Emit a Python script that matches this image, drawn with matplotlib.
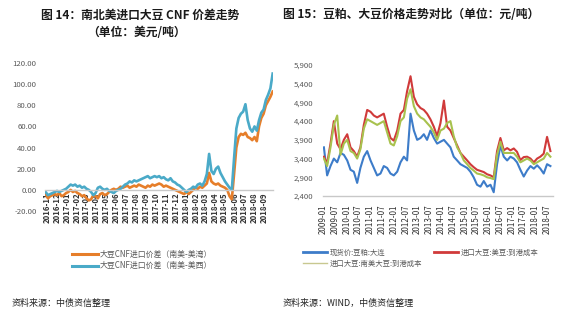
import matplotlib
matplotlib.use("Agg")
import matplotlib.pyplot as plt
import matplotlib.dates as mdates
import pandas as pd
from matplotlib.lines import Line2D

plt.rcParams['font.family'] = ['Noto Sans CJK SC', 'DejaVu Sans']

# ---------------- Left chart data (weekly, USD/t) ----------------
left_start = '2016-10-26'
gulf_spread = [-4, -8, -6, -5, -4, -5, -3, -6, -5, -3, -2, 0, -2, -1, -3, -4,
               -6, -5, -8, -10, -9, -5, -6, -8, -4, -3, -5, -4, -2, 0, 1, 0,
               1, 3, 2, 3, 4, 2, 3, 4, 3, 5, 4, 3, 2, 4, 3, 5,
               4, 5, 6, 5, 3, 4, 3, 2, 1, 0, -1, -2, -3, -4, -2, -4,
               -2, 0, 2, 1, 3, 2, 4, 6, 16, 8, 6, 5, 6, 4, 3, 2,
               0, -6, -9, 15, 40, 50, 53, 52, 54, 50, 49, 47, 50, 46, 60, 68,
               72, 80, 84, 88, 93]
west_spread = [-2, -5, -4, -3, -2, -1, -2, -1, 0, 1, 3, 5, 4, 5, 3, 4,
               2, 3, 1, 0, -2, -5, -3, 2, 3, 1, 0, 1, -1, -2, -3, -1,
               0, 1, 3, 5, 6, 8, 7, 9, 8, 9, 10, 11, 12, 13, 11, 12,
               13, 12, 13, 11, 12, 10, 9, 11, 8, 7, 5, 4, 2, 0, -2, 0,
               1, 3, 2, 5, 6, 4, 8, 15, 34, 18, 15, 20, 22, 16, 12, 8,
               5, 2, 0, 30, 58, 68, 72, 74, 81, 66, 58, 55, 60, 56, 66, 73,
               76, 85, 90, 96, 110]
left_labels = ['大豆CNF进口价差（南美-美湾）', '大豆CNF进口价差（南美-美西）']
left_yticks = [-20, 0, 20, 40, 60, 80, 100, 120]

# ---------------- Right chart data (CNY/t) ----------------
right_dates = ['2009-01-11', '2009-03-02', '2009-04-23', '2009-06-14', '2009-08-05', '2009-09-25',
               '2009-11-16', '2010-01-07', '2010-02-27', '2010-04-19', '2010-06-10', '2010-07-30',
               '2010-09-21', '2010-11-12', '2011-01-03', '2011-02-23', '2011-04-15', '2011-06-06',
               '2011-07-27', '2011-09-17', '2011-11-08', '2011-12-29', '2012-02-20', '2012-04-11',
               '2012-06-02', '2012-07-22', '2012-09-13', '2012-11-04', '2012-12-25', '2013-02-15',
               '2013-04-07', '2013-05-27', '2013-07-18', '2013-09-09', '2013-10-30', '2013-12-21',
               '2014-02-12', '2014-04-03', '2014-05-24', '2014-07-14', '2014-09-05', '2014-10-26',
               '2014-12-17', '2015-02-07', '2015-03-29', '2015-05-19', '2015-07-10', '2015-09-01',
               '2015-10-22', '2015-12-13', '2016-02-03', '2016-03-24', '2016-05-15', '2016-07-06',
               '2016-08-27', '2016-10-18', '2016-12-08', '2017-01-29', '2017-03-20', '2017-05-11',
               '2017-07-02', '2017-08-23', '2017-10-14', '2017-12-05', '2018-01-25', '2018-03-16',
               '2018-05-07', '2018-06-28', '2018-08-19']
meal_dalian = [3700, 2950, 3200, 3400, 3300, 3550, 3500, 3350, 3100, 3050, 2750, 3150,
               3450, 3600, 3350, 3150, 2950, 3000, 3200, 3150, 3000, 2950, 3050, 3300,
               3450, 3350, 4600, 4150, 3900, 3950, 4050, 3900, 4150, 3950, 3800, 3850,
               3900, 3800, 3700, 3450, 3350, 3250, 3200, 3150, 3050, 2900, 2700, 2650,
               2800, 2650, 2700, 2500, 3250, 3750, 3450, 3350, 3450, 3400, 3300, 3100,
               2920, 3080, 3200, 3130, 3220, 3130, 3000, 3250, 3200]
us_bean_cost = [3450, 3270, 3800, 4400, 3800, 3650, 3900, 4050, 3700, 3600, 3450, 3700,
                4300, 4700, 4650, 4550, 4500, 4550, 4600, 4250, 3950, 3880, 4150, 4600,
                4700, 5200, 5600, 5050, 4850, 4750, 4700, 4600, 4450, 4250, 4000, 4350,
                4950, 4250, 4150, 3950, 3750, 3550, 3450, 3350, 3250, 3170, 3100, 3070,
                3040, 2980, 2950, 2900, 3600, 3950, 3620, 3680, 3620, 3670, 3580, 3360,
                3440, 3450, 3400, 3300, 3400, 3450, 3530, 3980, 3600]
sa_bean_cost = [3400, 3200, 3700, 4300, 4550, 3500, 3800, 3900, 3600, 3550, 3400, 3650,
                4200, 4450, 4400, 4350, 4300, 4350, 4400, 4100, 3800, 3750, 4000, 4400,
                4500, 5000, 5250, 4800, 4600, 4500, 4450, 4350, 4250, 4100, 3900, 4150,
                4200, 4350, 4400, 4000, 3700, 3550, 3350, 3250, 3150, 3080, 3000, 2980,
                2950, 2900, 2880, 2850, 3500, 3850, 3550, 3550, 3550, 3550, 3450, 3300,
                3350, 3400, 3350, 3250, 3300, 3350, 3400, 3550, 3450]
right_labels = ['现货价:豆粕:大连', '进口大豆:美豆:到港成本', '进口大豆:南美大豆:到港成本']
right_yticks = [2400, 2900, 3400, 3900, 4400, 4900, 5400, 5900]

W, H = 565, 326
fig = plt.figure(figsize=(W / 100, H / 100), dpi=100)
fig.patch.set_facecolor('white')

def fx(px):
    return px / W

def fy(py):
    return 1 - py / H

TICK_C = '#595959'
AX_C = '#c8c8c8'

# ---------------- Left chart ----------------
axL = fig.add_axes([fx(45), fy(211), fx(273) - fx(45), fy(63) - fy(211)])
ldates = pd.date_range(left_start, periods=len(gulf_spread), freq='7D')
c_or = '#e67e2a'
c_bl = '#4aaac8'
axL.plot(ldates, gulf_spread, color=c_or, lw=1.9, solid_joinstyle='round')
axL.plot(ldates, west_spread, color=c_bl, lw=1.9, solid_joinstyle='round')
axL.set_ylim(-20, 120)
axL.set_xlim(pd.Timestamp('2016-10-24'), pd.Timestamp('2018-09-27'))
axL.set_yticks(left_yticks)
axL.set_yticklabels([f'{v:.2f}' for v in left_yticks])
axL.xaxis.set_major_locator(mdates.MonthLocator())
axL.xaxis.set_major_formatter(mdates.DateFormatter('%Y-%m'))
for s in ['top', 'right', 'left']:
    axL.spines[s].set_visible(False)
axL.spines['bottom'].set_position(('data', 0))
axL.spines['bottom'].set_color(AX_C)
axL.spines['bottom'].set_linewidth(1.0)
axL.tick_params(axis='y', length=0, pad=6, labelsize=5.6, labelcolor=TICK_C)
axL.tick_params(axis='x', length=0, pad=2, labelsize=5.6, labelcolor='#333333', rotation=90)
for t in axL.get_xticklabels():
    t.set_fontweight('bold')
axL.set_facecolor('none')

fig.text(fx(140), fy(15), '图 14：南北美进口大豆 CNF 价差走势', ha='center', va='center',
         fontsize=8.5, fontweight='bold', color='#1a1a1a')
fig.text(fx(137), fy(32), '（单位：美元/吨）', ha='center', va='center',
         fontsize=8.5, fontweight='bold', color='#1a1a1a')

hL = [Line2D([], [], color=c_or, lw=2.2), Line2D([], [], color=c_bl, lw=2.2)]
fig.legend(hL, left_labels, loc='upper left', bbox_to_anchor=(fx(72), fy(250)),
           frameon=False, fontsize=5.7, handlelength=3.3, handletextpad=0.25,
           labelspacing=0.3, borderpad=0, borderaxespad=0, labelcolor=TICK_C)
fig.text(fx(12), fy(303), '资料来源：中债资信整理', ha='left', va='center',
         fontsize=6.5, color='#262626')

# ---------------- Right chart ----------------
axR = fig.add_axes([fx(323), fy(196), fx(553) - fx(323), fy(65) - fy(196)])
rd = pd.to_datetime(right_dates)
c_b = '#3d7cc9'
c_r = '#d03a3a'
c_g = '#a8c24e'
axR.plot(rd, meal_dalian, color=c_b, lw=1.5)
axR.plot(rd, us_bean_cost, color=c_r, lw=1.5)
axR.plot(rd, sa_bean_cost, color=c_g, lw=1.5)
axR.set_ylim(2400, 5900)
axR.set_xlim(pd.Timestamp('2008-12-28'), pd.Timestamp('2018-09-28'))
axR.set_yticks(right_yticks)
axR.set_yticklabels([f'{v:,}' for v in right_yticks])
xt = pd.date_range('2009-01-01', '2018-07-01', freq='6MS')
axR.set_xticks(xt)
axR.set_xticklabels([d.strftime('%Y-%m') for d in xt])
for s in ['top', 'right', 'left']:
    axR.spines[s].set_visible(False)
axR.spines['bottom'].set_color(AX_C)
axR.spines['bottom'].set_linewidth(1.0)
axR.tick_params(axis='y', length=0, pad=7, labelsize=5.6, labelcolor=TICK_C)
axR.tick_params(axis='x', length=0, pad=6, labelsize=5.8, labelcolor='#333333', rotation=90)
axR.set_facecolor('none')

fig.text(fx(283), fy(15), '图 15：豆粕、大豆价格走势对比（单位：元/吨）', ha='left', va='center',
         fontsize=8.5, fontweight='bold', color='#1a1a1a')

hR = [Line2D([], [], color=c_b, lw=2.0), Line2D([], [], color=c_r, lw=2.0),
      Line2D([], [], color='#c8c890', lw=1.0)]
fig.legend([hR[0], hR[2], hR[1]], [right_labels[0], right_labels[2], right_labels[1]],
           ncol=2, loc='upper left', bbox_to_anchor=(fx(303), fy(249)),
           frameon=False, fontsize=5.3, handlelength=3.3, handletextpad=0.3,
           labelspacing=0.35, columnspacing=1.6, borderpad=0, borderaxespad=0,
           labelcolor=TICK_C)
fig.text(fx(283), fy(303), '资料来源：WIND，中债资信整理', ha='left', va='center',
         fontsize=6.5, color='#262626')

fig.savefig('out.png', dpi=100, facecolor='white')
